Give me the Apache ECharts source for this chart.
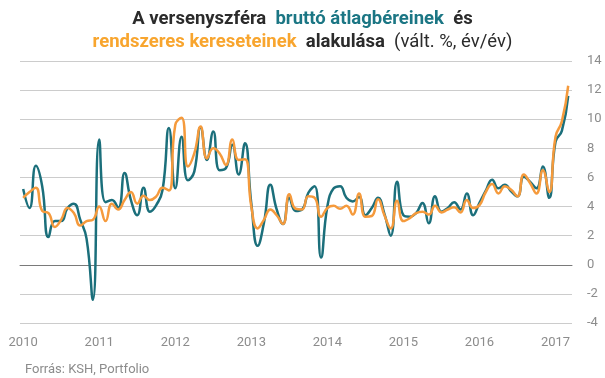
<!DOCTYPE html>
<html><head><meta charset="utf-8">
<script src="https://cdn.jsdelivr.net/npm/echarts@6/dist/echarts.min.js"></script>
<style>html,body{margin:0;padding:0;background:#fff}#c{width:605px;height:378px}</style>
</head><body><div id="c"></div>
<script>
// Monthly, Jan 2010 .. Mar 2017 (index 0 = Jan 2010)
const years = ['2010','2011','2012','2013','2014','2015','2016','2017'];
const yTicks = [-4,-2,0,2,4,6,8,10,12,14];
const brutto = [
 5.2,3.9,6.8,5.4,1.9,3.0,3.0,3.9,4.2,3.1,1.8,-2.4,
 8.6,4.3,4.45,3.9,6.3,4.45,3.4,5.3,3.65,4.1,5.15,9.4,
 5.25,8.8,5.8,6.4,9.45,7.2,9.15,6.5,6.65,8.25,6.2,8.35,
 4.2,1.3,2.9,5.5,3.8,2.8,4.6,3.7,3.8,4.95,5.4,0.5,
 4.0,5.25,5.4,4.6,4.35,4.65,3.4,3.9,4.6,3.5,2.0,5.7,
 3.4,3.3,3.55,4.25,2.85,4.7,3.65,3.9,4.3,3.8,4.9,3.4,
 4.25,5.1,5.85,5.25,5.5,5.05,4.7,6.05,5.7,5.25,6.75,4.6,
 8.45,9.2,11.6
];
const rendszeres = [
 4.6,5.0,5.3,3.7,3.55,2.6,3.1,3.9,3.55,2.7,3.0,3.1,
 4.0,3.0,4.2,3.8,4.45,5.0,4.2,4.75,4.45,4.7,5.3,5.1,
 9.6,10.1,6.75,7.65,9.5,7.3,8.0,7.65,6.85,8.6,7.2,7.25,
 4.0,2.5,3.1,3.8,3.4,2.8,4.85,3.85,3.8,4.7,4.6,3.3,
 3.9,4.05,3.85,4.05,3.45,4.9,3.3,3.35,4.5,3.4,2.5,4.4,
 3.0,3.2,3.55,3.65,3.45,4.05,3.6,3.8,3.95,3.6,4.45,3.9,
 4.1,5.0,5.55,4.9,5.4,5.15,4.7,6.2,5.6,4.9,6.5,5.0,
 8.8,9.85,12.3
];
const yearTickIdx = years.map((y,k)=>k*12);

const teal = '#1b6f7b', orange = '#f59a3c';
const chart = echarts.init(document.getElementById('c'));
const FONT = 'Roboto';
const TS = 18.5;
chart.setOption({
  animation:false,
  textStyle:{fontFamily:FONT},
  title:[
    {left:'center', top:5, text:'{d|A versenyszféra  }{t|bruttó átlagbéreinek}{d|  és}',
     textStyle:{rich:{
       d:{fontFamily:FONT,fontWeight:'bold',fontSize:TS,color:'#2b2b2b'},
       t:{fontFamily:FONT,fontWeight:'bold',fontSize:TS,color:'#1b7684'}}}},
    {left:'center', top:28, text:'{o|rendszeres kereseteinek}{d|  alakulása}{n|  (vált. %, év/év)}',
     textStyle:{rich:{
       o:{fontFamily:FONT,fontWeight:'bold',fontSize:TS,color:'#f8a52e'},
       d:{fontFamily:FONT,fontWeight:'bold',fontSize:TS,color:'#2b2b2b'},
       n:{fontFamily:FONT,fontWeight:'normal',fontSize:TS,color:'#2b2b2b'}}}},
    {left:20, top:358, text:'Forrás: KSH, Portfolio',
     textStyle:{fontFamily:FONT,fontWeight:'normal',fontSize:13,color:'#8c8c8c'}}
  ],
  grid:{left:20, right:33, top:61, bottom:55, containLabel:false},
  xAxis:{
    type:'value', min:-0.5, max:86.6,
    axisLine:{show:true,onZero:true,lineStyle:{color:'#7a7a7a',width:1}},
    axisTick:{show:false},
    splitLine:{show:false},
    axisLabel:{customValues:yearTickIdx, color:'#8c8c8c', fontSize:13, fontFamily:FONT, margin:13,
      formatter:(v)=>years[Math.round(v/12)]}
  },
  yAxis:{
    type:'value', position:'right', min:-4, max:14, interval:2,
    axisLine:{show:false}, axisTick:{show:false},
    splitLine:{lineStyle:{color:'#cccccc',width:1}},
    axisLabel:{color:'#8c8c8c', fontSize:13, fontFamily:FONT, margin:15, align:'left'}
  },
  series:[
    {name:'bruttó', type:'line', smooth:0.5, symbol:'none',
     data:brutto.map((v,i)=>[i,v]), lineStyle:{color:teal,width:2.5}, z:2},
    {name:'rendszeres', type:'line', smooth:0.5, symbol:'none',
     data:rendszeres.map((v,i)=>[i,v]), lineStyle:{color:orange,width:2.5}, z:3}
  ]
});
</script></body></html>
